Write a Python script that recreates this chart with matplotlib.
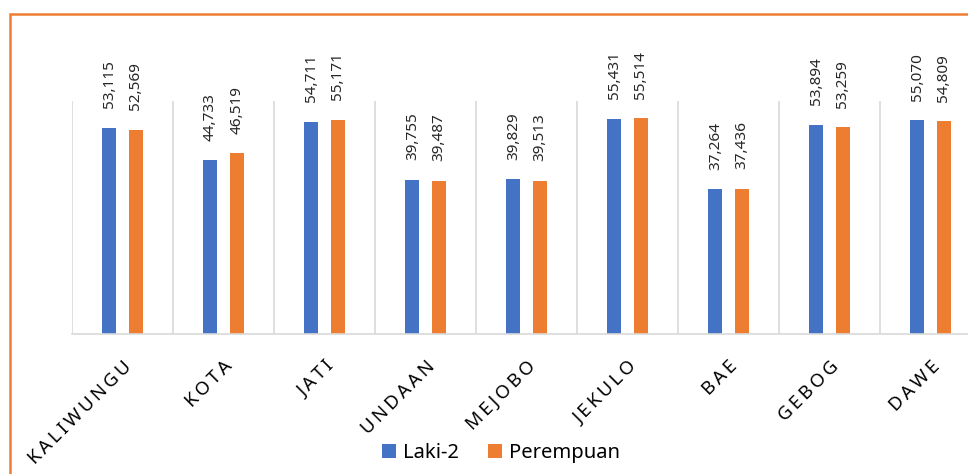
import matplotlib.pyplot as plt
import numpy as np
from matplotlib.patches import Rectangle

kecamatan = ["KALIWUNGU", "KOTA", "JATI", "UNDAAN", "MEJOBO", "JEKULO", "BAE", "GEBOG", "DAWE"]
laki = [53115, 44733, 54711, 39755, 39829, 55431, 37264, 53894, 55070]
perempuan = [52569, 46519, 55171, 39487, 39513, 55514, 37436, 53259, 54809]

blue = "#4472C4"
orange = "#ED7D31"
grid_col = "#D9D9D9"

plt.rcParams['font.family'] = ['Noto Sans', 'DejaVu Sans']

fig = plt.figure(figsize=(9.68, 4.74), dpi=100)
ax = fig.add_axes([72 / 968, 1 - 334 / 474, 909 / 968, 233 / 474])

x = np.arange(len(kecamatan))
w = 0.14
off = 0.13
b1 = ax.bar(x - off, laki, w, color=blue, label="Laki-2")
b2 = ax.bar(x + off, perempuan, w, color=orange, label="Perempuan")

# value labels, rotated like in excel
for bars, vals in [(b1, laki), (b2, perempuan)]:
    for r, v in zip(bars, vals):
        ax.annotate(f"{v:,}", (r.get_x() + r.get_width() / 2, v),
                    xytext=(0, 14), textcoords="offset points",
                    rotation=90, ha="center", va="bottom", fontsize=11,
                    color="#262626", annotation_clip=False)

ax.set_xlim(-0.5, len(kecamatan) - 0.5)
ax.set_ylim(0, 60000)

# category separators
for b in np.arange(-0.5, len(kecamatan), 1.0):
    ax.axvline(b, color=grid_col, lw=1.2, zorder=0)

for s in ["top", "right", "left"]:
    ax.spines[s].set_visible(False)
ax.spines["bottom"].set_color(grid_col)
ax.spines["bottom"].set_linewidth(1.2)
ax.set_yticks([])
ax.tick_params(axis="x", length=0, pad=0)
ax.set_xticks(x)
ax.set_xticklabels(["\u2009".join(k) for k in kecamatan], rotation=45, ha="right",
                   rotation_mode="anchor", fontsize=13.5, color="black")
for lbl in ax.get_xticklabels():
    lbl.set_y(-0.1)
    lbl.set_x(lbl.get_position()[0] - 0.04)

fig.legend(handles=[b1, b2], loc="center", bbox_to_anchor=(501 / 968, 1 - 453 / 474),
           ncol=2, frameon=False, fontsize=14.5, handlelength=0.7, handleheight=0.7,
           handletextpad=0.35, columnspacing=1.4)

# orange chart border (right / bottom edges run off the image)
fig.patches.append(Rectangle((10 / 968, -0.1), 1.1, 1 - 14 / 474 + 0.1,
                             transform=fig.transFigure, fill=False,
                             edgecolor=orange, lw=1.8, zorder=10))

fig.savefig("out.png", dpi=100)
